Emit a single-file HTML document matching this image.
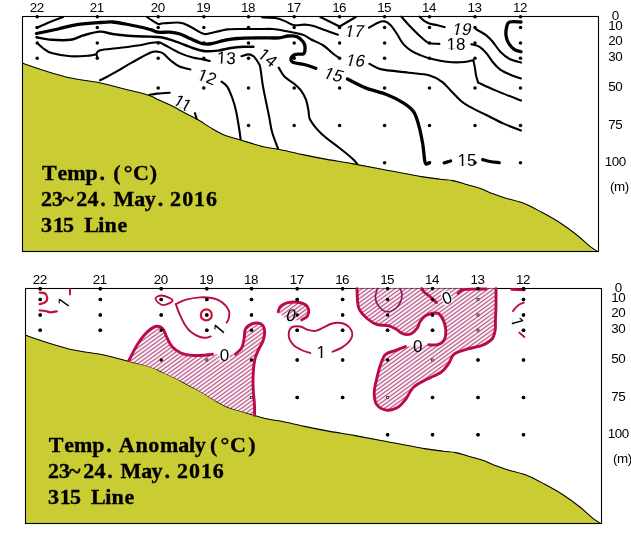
<!DOCTYPE html>
<html><head><meta charset="utf-8"><title>315 Line Temp.</title>
<style>
html,body{margin:0;padding:0;background:#fff;}
body{width:631px;height:545px;overflow:hidden;}
svg{display:block;}
.ax{font-family:"Liberation Sans",Arial,sans-serif;font-size:13.4px;letter-spacing:-0.5px;fill:#000;}
.cl{font-family:"Liberation Sans",Arial,sans-serif;font-size:17px;fill:#000;}
.ttl{font-family:"Liberation Serif","Times New Roman",serif;font-weight:bold;font-size:22px;fill:#000;stroke:#000;stroke-width:0.35px;}
</style></head><body>
<svg width="631" height="545" viewBox="0 0 631 545">
<rect width="631" height="545" fill="#fff"/>
<!-- top panel -->
<g transform="translate(0,0)">
<path d="M22.5,63.2 C26.3,64.5 37.4,68.4 45.4,70.9 C53.4,73.4 62.1,76.1 70.7,78 C79.4,79.9 90.3,81 97.3,82.3 C104.3,83.6 108,84.8 112.7,86 C117.4,87.2 121.2,88.2 125.4,89.2 C129.6,90.2 133.8,91.2 138,92.3 C142.2,93.4 147,94.7 150.7,96.1 C154.4,97.5 156.3,98.9 160,100.6 C163.7,102.3 168.5,104.2 172.7,106.3 C176.9,108.4 181.2,111 185.4,113.2 C189.6,115.5 193.4,117.2 198,119.8 C202.6,122.4 208.1,126.4 212.7,129 C217.3,131.6 220.8,133.6 225.4,135.4 C230.1,137.2 234.3,138.1 240.6,140 C246.9,141.9 257.1,145.2 263.4,146.8 C269.7,148.4 272.3,148 278.6,149.3 C284.9,150.6 293.4,152.7 301.4,154.4 C309.4,156.1 318.4,157.9 326.8,159.4 C335.2,160.9 342.6,161.9 352,163.6 C361.4,165.3 371.8,167.3 383.4,169.5 C395,171.7 412,175 421.4,176.6 C430.8,178.2 434.8,178.5 440,179.2 C445.2,179.9 448.5,179.8 452.7,180.6 C456.9,181.4 460.8,182.9 465.4,184.2 C470,185.5 476.4,187 480.6,188.5 C484.8,190 486.5,191.5 490.7,193.1 C494.9,194.7 500.4,196.5 505.9,198.2 C511.4,199.9 517.8,200.9 523.7,203.2 C529.6,205.5 535.5,208.9 541.4,212.1 C547.3,215.3 553.3,218.5 559.2,222.3 C565.1,226.1 571.8,231 576.9,235 C582,239 586.1,243.4 589.6,246.1 C593.1,248.8 596.3,250.5 597.6,251.4 L598.5,251.5 L22.5,251.5 Z" fill="#c9cc33" stroke="none"/>
<path d="M22.5,63.2 C26.3,64.5 37.4,68.4 45.4,70.9 C53.4,73.4 62.1,76.1 70.7,78 C79.4,79.9 90.3,81 97.3,82.3 C104.3,83.6 108,84.8 112.7,86 C117.4,87.2 121.2,88.2 125.4,89.2 C129.6,90.2 133.8,91.2 138,92.3 C142.2,93.4 147,94.7 150.7,96.1 C154.4,97.5 156.3,98.9 160,100.6 C163.7,102.3 168.5,104.2 172.7,106.3 C176.9,108.4 181.2,111 185.4,113.2 C189.6,115.5 193.4,117.2 198,119.8 C202.6,122.4 208.1,126.4 212.7,129 C217.3,131.6 220.8,133.6 225.4,135.4 C230.1,137.2 234.3,138.1 240.6,140 C246.9,141.9 257.1,145.2 263.4,146.8 C269.7,148.4 272.3,148 278.6,149.3 C284.9,150.6 293.4,152.7 301.4,154.4 C309.4,156.1 318.4,157.9 326.8,159.4 C335.2,160.9 342.6,161.9 352,163.6 C361.4,165.3 371.8,167.3 383.4,169.5 C395,171.7 412,175 421.4,176.6 C430.8,178.2 434.8,178.5 440,179.2 C445.2,179.9 448.5,179.8 452.7,180.6 C456.9,181.4 460.8,182.9 465.4,184.2 C470,185.5 476.4,187 480.6,188.5 C484.8,190 486.5,191.5 490.7,193.1 C494.9,194.7 500.4,196.5 505.9,198.2 C511.4,199.9 517.8,200.9 523.7,203.2 C529.6,205.5 535.5,208.9 541.4,212.1 C547.3,215.3 553.3,218.5 559.2,222.3 C565.1,226.1 571.8,231 576.9,235 C582,239 586.1,243.4 589.6,246.1 C593.1,248.8 596.3,250.5 597.6,251.4" fill="none" stroke="#000" stroke-width="1.1"/>
<rect x="22.5" y="16.5" width="576" height="235" fill="none" stroke="#000" stroke-width="1.1"/>
<circle cx="37.2" cy="16.8" r="1.75"/>
<circle cx="37.2" cy="27.5" r="1.75"/>
<circle cx="37.2" cy="43" r="1.75"/>
<circle cx="37.2" cy="58.2" r="1.75"/>
<circle cx="97.3" cy="16.8" r="1.75"/>
<circle cx="97.3" cy="27.5" r="1.75"/>
<circle cx="97.3" cy="43" r="1.75"/>
<circle cx="97.3" cy="58.2" r="1.75"/>
<circle cx="158.2" cy="16.8" r="1.75"/>
<circle cx="158.2" cy="27.5" r="1.75"/>
<circle cx="158.2" cy="43" r="1.75"/>
<circle cx="158.2" cy="58.2" r="1.75"/>
<circle cx="158.2" cy="88" r="1.75"/>
<circle cx="203.8" cy="16.8" r="1.75"/>
<circle cx="203.8" cy="27.5" r="1.75"/>
<circle cx="203.8" cy="43" r="1.75"/>
<circle cx="203.8" cy="58.2" r="1.75"/>
<circle cx="203.8" cy="88" r="1.75"/>
<circle cx="248.5" cy="16.8" r="1.75"/>
<circle cx="248.5" cy="27.5" r="1.75"/>
<circle cx="248.5" cy="43" r="1.75"/>
<circle cx="248.5" cy="58.2" r="1.75"/>
<circle cx="248.5" cy="88" r="1.75"/>
<circle cx="248.5" cy="125.5" r="1.75"/>
<circle cx="294.2" cy="16.8" r="1.75"/>
<circle cx="294.2" cy="27.5" r="1.75"/>
<circle cx="294.2" cy="43" r="1.75"/>
<circle cx="294.2" cy="58.2" r="1.75"/>
<circle cx="294.2" cy="88" r="1.75"/>
<circle cx="294.2" cy="125.5" r="1.75"/>
<circle cx="339.6" cy="16.8" r="1.75"/>
<circle cx="339.6" cy="27.5" r="1.75"/>
<circle cx="339.6" cy="43" r="1.75"/>
<circle cx="339.6" cy="58.2" r="1.75"/>
<circle cx="339.6" cy="88" r="1.75"/>
<circle cx="339.6" cy="125.5" r="1.75"/>
<circle cx="384.6" cy="16.8" r="1.75"/>
<circle cx="384.6" cy="27.5" r="1.75"/>
<circle cx="384.6" cy="43" r="1.75"/>
<circle cx="384.6" cy="58.2" r="1.75"/>
<circle cx="384.6" cy="88" r="1.75"/>
<circle cx="384.6" cy="125.5" r="1.75"/>
<circle cx="384.6" cy="162.7" r="1.75"/>
<circle cx="429.5" cy="16.8" r="1.75"/>
<circle cx="429.5" cy="27.5" r="1.75"/>
<circle cx="429.5" cy="43" r="1.75"/>
<circle cx="429.5" cy="58.2" r="1.75"/>
<circle cx="429.5" cy="88" r="1.75"/>
<circle cx="429.5" cy="125.5" r="1.75"/>
<circle cx="429.5" cy="162.7" r="1.75"/>
<circle cx="475" cy="16.8" r="1.75"/>
<circle cx="475" cy="27.5" r="1.75"/>
<circle cx="475" cy="43" r="1.75"/>
<circle cx="475" cy="58.2" r="1.75"/>
<circle cx="475" cy="88" r="1.75"/>
<circle cx="475" cy="125.5" r="1.75"/>
<circle cx="475" cy="162.7" r="1.75"/>
<circle cx="520.5" cy="16.8" r="1.75"/>
<circle cx="520.5" cy="27.5" r="1.75"/>
<circle cx="520.5" cy="43" r="1.75"/>
<circle cx="520.5" cy="58.2" r="1.75"/>
<circle cx="520.5" cy="88" r="1.75"/>
<circle cx="520.5" cy="125.5" r="1.75"/>
<circle cx="520.5" cy="162.7" r="1.75"/>
<g class="ax" text-anchor="middle">
<text x="36.7" y="11.6">22</text>
<text x="96.8" y="11.6">21</text>
<text x="157.7" y="11.6">20</text>
<text x="203.3" y="11.6">19</text>
<text x="248" y="11.6">18</text>
<text x="293.7" y="11.6">17</text>
<text x="339.1" y="11.6">16</text>
<text x="384.1" y="11.6">15</text>
<text x="429" y="11.6">14</text>
<text x="474.5" y="11.6">13</text>
<text x="520" y="11.6">12</text>
<text x="615.2" y="20.2">0</text>
<text x="615.2" y="30.3">10</text>
<text x="615.2" y="45.4">20</text>
<text x="615.2" y="61.2">30</text>
<text x="615.2" y="91.3">50</text>
<text x="615.2" y="129.3">75</text>
<text x="615.2" y="166.3">100</text>
<text x="619.4" y="191">(m)</text>
</g>
<g class="ttl">
<text x="42 57.4 67.3 85.5 99.5 105.5 113.2 123.7 132.9 149.8" y="179.5">Temp. (°C)</text>
<text x="41 52.1 62.2 76.3 87.5 100.3 106.3 113.5 134.2 144.7 157.7 163.7 170.1 182.2 194.1 205.9" y="205.5">23~24. May. 2016</text>
<text x="41.1 52.9 63.1 69.1 84.2 98.3 104.6 117.5" y="231.5">315 Line</text>
</g>
</g>
<g fill="none" stroke="#000" stroke-linecap="round" stroke-linejoin="round">
<path d="M36.5,27.7 C38.8,26.8 45.6,23.8 50,22 C54.4,20.2 60.9,17.8 63.1,17" stroke-width="2.1"/>
<path d="M146.9,17 C147.9,17.7 151.1,19.8 153,21 C154.9,22.2 156.6,23.6 158.3,24 C160,24.4 159.8,23.5 163.4,23.3 C167,23.1 175.6,22.2 180,22.7 C184.4,23.2 186.2,24.7 190,26.5 C193.8,28.3 199.6,32.3 202.8,33.5 C206,34.7 204.8,34.2 209,33.5 C213.2,32.8 221.4,30.1 228,29.4 C234.6,28.6 243.2,29.1 248.5,29 C253.8,28.9 256,29 260,29 C264,29 268.5,28.7 272.7,29 C276.9,29.3 281.2,30.2 285.4,31 C289.6,31.8 294.8,32.8 298,33.5 C301.2,34.2 302.3,34.4 304.4,35.4 C306.5,36.4 307.5,37.5 310.7,39.2 C313.9,40.9 319.9,43.3 323.4,45.5 C326.9,47.7 329,50.4 331.7,52.5 C334.4,54.6 338,57.2 339.3,58.2" stroke-width="2.1"/>
<path d="M369.4,63.8 C370.8,64.5 375.2,67.2 378,68.3 C380.8,69.3 380.9,69.4 386,70.1 C391.1,70.8 401.5,71.8 408.7,72.7 C415.9,73.6 423.5,73.7 429,75.2 C434.5,76.7 437.9,78.8 441.7,81.6 C445.5,84.3 448.4,88.3 451.8,91.7 C455.2,95.1 459,99.3 462,101.8 C465,104.3 466.1,104.8 470,106.9 C473.9,109 479.7,111.8 485.2,114.5 C490.7,117.2 497,120.7 503,123.4 C509,126.1 518,129.3 521,130.5" stroke-width="2.1"/>
<path d="M36.5,33.5 C40.1,32.8 51.2,30.5 58,29 C64.8,27.5 70,25.7 77,24.6 C84,23.5 94,22.9 100,22.5 C106,22.1 108.5,21.8 112.7,22 C116.9,22.2 121.2,23.2 125.4,24 C129.6,24.8 133.8,25.6 138,26.5 C142.2,27.4 147.3,28.8 150.7,29.7 C154.1,30.6 155.1,31.8 158.3,32.2 C161.5,32.6 166.1,31.9 169.7,32.2 C173.3,32.5 176.6,33 180,34 C183.4,35 186.2,36.9 190,38.5 C193.8,40.1 199.2,42.8 202.8,43.6 C206.4,44.5 208.1,44.1 211.7,43.6 C215.3,43.1 220.2,41.2 224.4,40.4 C228.6,39.5 231.1,38.9 237,38.5 C242.9,38.1 253,38 260,37.9 C267,37.8 274.4,38.2 279,37.9 C283.6,37.6 284.9,36.2 287.9,36 C290.9,35.8 294.3,35.6 296.8,36.6 C299.3,37.6 301.7,40 303.1,41.7 C304.5,43.4 304.9,44.8 305,46.8 C305.1,48.8 305.3,52.4 303.7,53.7 C302.1,55 297.6,53.5 295.5,54.4 C293.4,55.2 291.3,57.4 291,58.8 C290.7,60.2 291.4,61.6 293.6,62.6 C295.8,63.6 300.7,63.5 304.4,64.5 C308.1,65.5 313.9,67.7 315.8,68.3" stroke-width="3.3"/>
<path d="M347.4,79 C350.4,80.5 359.2,85.4 365.6,87.9 C372,90.4 379.6,91.7 386,94.2 C392.4,96.7 399.1,100.1 403.7,103.1 C408.3,106.1 411.3,108.2 413.8,112 C416.3,115.8 417.4,120.6 418.9,125.9 C420.4,131.2 421.6,137.6 422.7,143.7 C423.8,149.8 424.1,159.5 425.2,162.7 C426.3,165.9 428.8,162.7 429.5,162.7" stroke-width="3.3"/>
<path d="M444.2,162.9 L450.6,161" stroke-width="3.3"/>
<path d="M482.7,159.6 C483.9,159.9 487.2,161 490,161.5 C492.8,162 497.7,162.5 499.2,162.7" stroke-width="3.3"/>
<path d="M36.5,37.3 C39,37.7 46,39.4 51.7,39.8 C57.4,40.2 65.4,40.5 70.7,39.8 C76,39.1 78.5,36.8 83.4,35.4 C88.3,34 95.1,31.8 100,31.6 C104.9,31.4 107.4,33.3 112.7,34 C118,34.7 125.4,35.6 131.7,36 C138,36.4 145.8,36.4 150.7,36.6 C155.6,36.8 157.5,36.8 160.9,37.3 C164.3,37.8 167.8,38.8 171,39.8 C174.2,40.8 176.4,41.6 180,43 C183.6,44.4 188.5,46.6 192.7,48 C196.9,49.4 201.2,50.8 205.4,51.2 C209.6,51.6 213.8,51.1 218,50.6 C222.2,50.1 226.5,48.6 230.7,48 C234.9,47.4 239.6,47 243.4,46.8 C247.2,46.6 251.8,46.8 253.5,46.8" stroke-width="2.4"/>
<path d="M278.7,67.6 C279.6,69.1 281.8,73.8 284.4,76.5 C287,79.2 291.8,81.7 294.5,84 C297.2,86.3 299,87.9 300.9,90.4 C302.8,93 304.6,95.9 305.9,99.3 C307.2,102.7 307.8,107.2 308.5,110.7 C309.2,114.2 308.1,116.1 310.3,120 C312.5,123.9 316.8,129.3 321.7,134 C326.6,138.7 334.4,144 339.5,148 C344.6,152 349.1,155.6 352,158.2 C354.9,160.8 356.3,162.9 357.2,163.8" stroke-width="2.1"/>
<path d="M37.1,43 C38,43.8 40.4,46.3 42.8,48 C45.2,49.7 47.1,51.7 51.7,53.1 C56.4,54.5 64.4,55.9 70.7,56.3 C77,56.7 85.5,55.9 89.7,55.6 C93.9,55.3 94.7,54.2 96,54.6 C97.3,55 97.1,57.3 97.3,57.8" stroke-width="2.1"/>
<path d="M96,54.6 C96.7,53.9 96.2,51.4 100,50.3 C103.8,49.2 112.7,48.8 119,48 C125.3,47.2 132.7,46.3 138,45.5 C143.3,44.7 147.3,43.5 150.7,43 C154.1,42.5 156.2,42.1 158.3,42.3 C160.4,42.5 159.8,42.4 163.4,44.2 C167,46 175.1,50.9 180,53.1 C184.9,55.3 188.9,56.5 192.7,57.5 C196.5,58.5 200,58.8 202.8,59.4 C205.7,60 208.6,60.7 209.8,61" stroke-width="2.1"/>
<path d="M241.5,56.3 C242.7,56 246.5,54.4 248.5,54.4 C250.5,54.4 251.8,54.8 253.5,56.3 C255.2,57.8 257.5,61.3 258.6,63.2 C259.7,65.1 259.6,63.9 260.3,67.6 C261,71.3 261.8,79.3 262.8,85.4 C263.9,91.5 265.5,99.1 266.6,104.4 C267.7,109.7 268.2,112.3 269.2,117 C270.1,121.7 270.8,127.6 272.3,132.8 C273.8,138.1 277.1,145.9 278,148.5" stroke-width="2.1"/>
<path d="M100,80.3 C101.3,79.7 104.4,78.2 107.6,76.5 C110.8,74.8 115,72.4 119,70.1 C123,67.8 126.4,65.5 131.7,62.6 C137,59.7 146.3,54.3 150.7,52.5 C155.1,50.7 156.2,51.6 158.3,51.8 C160.4,52 161.3,52.2 163.4,53.7 C165.5,55.2 168.4,58.6 171,60.7 C173.6,62.8 175.8,64.8 179,66.3 C182.2,67.8 188.5,69 190.4,69.5" stroke-width="2.1"/>
<path d="M221.5,81.6 C222.4,82.4 225.4,83.9 227.2,86.6 C229,89.3 230.8,94 232.3,98 C233.8,102 234.8,105.5 236,110.7 C237.2,115.9 238.4,124.2 239.2,129 C240,133.8 240.4,137.5 240.6,139.2" stroke-width="2.1"/>
<path d="M149.4,94.9 C150.7,94.7 153.6,94 157,93.6 C160.4,93.2 167.6,92.8 169.7,92.7" stroke-width="2.1"/>
<path d="M194.9,113.2 L196.8,119" stroke-width="2.1"/>
<path d="M262,17.3 C264.4,17.4 272.6,17.5 276.5,18.2 C280.4,18.9 282.4,20.2 285.4,21.4 C288.3,22.6 291,24.7 294.2,25.2 C297.4,25.7 301.3,24.5 304.4,24.6 C307.5,24.7 309.2,24.9 312.7,25.8 C316.2,26.8 321.2,28.8 325.4,30.3 C329.6,31.8 335.9,34 338,34.7" stroke-width="2.1"/>
<path d="M369,27.7 C370.5,26.9 375.4,23.8 378,22.7 C380.6,21.6 382.5,21 384.6,21.4 C386.7,21.8 388.6,23.1 390.7,25.2 C392.8,27.3 394.9,30.8 397,34 C399.1,37.2 401.1,41.4 403.4,44.2 C405.7,47 408.2,48.8 411,50.6 C413.8,52.4 416.8,53.7 420,55 C423.2,56.3 425.2,57.2 430,58.4 C434.8,59.6 443.3,61.4 449,62 C454.7,62.6 460.3,62.3 464.4,62 C468.4,61.7 471.8,60.5 473.3,60.2" stroke-width="2.1"/>
<path d="M473.3,60.2 C473.6,61.6 474.6,65.8 475,68.3 C475.4,70.8 475.5,72.8 476,75.2 C476.5,77.6 477.8,81.4 478.2,82.6" stroke-width="2.1"/>
<path d="M478.2,82.6 C481.1,83.9 488.3,87.4 495.4,90.4 C502.5,93.4 516.7,98.9 521,100.6" stroke-width="2.1"/>
<path d="M401.4,16.7 C402.7,18.1 406.1,22.2 409,25.2 C411.9,28.2 415.6,32 418.5,34.7 C421.4,37.4 424.2,40 426.1,41.4 C428,42.8 427.8,42.9 430,43.3 C432.2,43.7 437.8,43.8 439.4,43.9" stroke-width="2.1"/>
<path d="M471.3,44.2 C472.7,44.6 477.1,45.3 479.6,46.8 C482.1,48.3 484.1,50.6 486.3,53.1 C488.5,55.6 490.4,59.2 492.7,62 C495,64.8 497.4,67.5 500.3,69.6 C503.2,71.7 506.9,73.2 510.4,74.7 C513.9,76.2 519.2,77.9 521,78.5" stroke-width="2.1"/>
<path d="M419.5,16.7 C420.3,17.4 422.4,19.7 424.2,20.9 C425.9,22.1 427.8,23.1 430,23.8 C432.2,24.5 435.1,24.6 437.5,25.2 C439.9,25.8 443.5,26.8 444.7,27.1" stroke-width="2.1"/>
<path d="M475.8,29 C477.1,29.8 481.6,32.4 483.4,33.5 C485.1,34.6 484.8,34 486.3,35.4 C487.9,36.8 490.4,39 492.7,41.7 C495,44.4 497.6,48.9 500.3,51.8 C503.1,54.6 505.8,57 509.2,58.8 C512.6,60.6 519,62 521,62.6" stroke-width="2.1"/>
<path d="M521,22 C519.1,22 512,21.2 509.6,22 C507.2,22.8 507.4,24.3 506.8,26.5 C506.2,28.7 505.7,32.6 506,35.4 C506.3,38.1 507.1,40.7 508.5,43 C509.9,45.3 512.1,47.8 514.2,49.3 C516.3,50.8 519.9,51.4 521,51.8" stroke-width="3.3"/>
<path d="M320.3,17 L339.6,26.5 L355.8,17" stroke-width="2.1"/>
</g>
<g class="cl" text-anchor="middle">
<g transform="translate(226.3,57.5) rotate(3)"><text y="6.2">13</text>
<rect x="-8.9" y="4.7" width="3.7" height="1.9" fill="#fff"/>
<rect x="-3.6" y="4.7" width="3.2" height="1.9" fill="#fff"/>
</g>
<g transform="translate(268,57.2) rotate(40)"><text y="6.2">14</text>
<rect x="-8.9" y="4.7" width="3.7" height="1.9" fill="#fff"/>
<rect x="-3.6" y="4.7" width="3.2" height="1.9" fill="#fff"/>
</g>
<g transform="translate(207.2,76.5) rotate(21)"><text y="6.2">12</text>
<rect x="-8.9" y="4.7" width="3.7" height="1.9" fill="#fff"/>
<rect x="-3.6" y="4.7" width="3.2" height="1.9" fill="#fff"/>
</g>
<g transform="translate(183,102.8) rotate(30)"><text y="6.2">11</text>
<rect x="-8.9" y="4.7" width="3.7" height="1.9" fill="#fff"/>
<rect x="-3.6" y="4.7" width="3.2" height="1.9" fill="#fff"/>
<rect x="0.5" y="4.7" width="3.7" height="1.9" fill="#fff"/>
<rect x="5.9" y="4.7" width="3.2" height="1.9" fill="#fff"/>
</g>
<g transform="translate(332.7,74) rotate(14) translate(0,6.2) skewX(-12) translate(0,-6.2)"><text y="6.2">15</text>
<rect x="-8.9" y="4.7" width="3.7" height="1.9" fill="#fff"/>
<rect x="-3.6" y="4.7" width="3.2" height="1.9" fill="#fff"/>
</g>
<g transform="translate(354.5,60) rotate(3) translate(0,6.2) skewX(-12) translate(0,-6.2)"><text y="6.2">16</text>
<rect x="-8.9" y="4.7" width="3.7" height="1.9" fill="#fff"/>
<rect x="-3.6" y="4.7" width="3.2" height="1.9" fill="#fff"/>
</g>
<g transform="translate(353.5,31) rotate(0) translate(0,6.2) skewX(-12) translate(0,-6.2)"><text y="6.2">17</text>
<rect x="-8.9" y="4.7" width="3.7" height="1.9" fill="#fff"/>
<rect x="-3.6" y="4.7" width="3.2" height="1.9" fill="#fff"/>
</g>
<g transform="translate(461,28.7) rotate(0) translate(0,6.2) skewX(-12) translate(0,-6.2)"><text y="6.2">19</text>
<rect x="-8.9" y="4.7" width="3.7" height="1.9" fill="#fff"/>
<rect x="-3.6" y="4.7" width="3.2" height="1.9" fill="#fff"/>
</g>
<g transform="translate(456,44.2) rotate(0)"><text y="6.2">18</text>
<rect x="-8.9" y="4.7" width="3.7" height="1.9" fill="#fff"/>
<rect x="-3.6" y="4.7" width="3.2" height="1.9" fill="#fff"/>
</g>
<g transform="translate(467,159.7) rotate(0)"><text y="6.2">15</text>
<rect x="-8.9" y="4.7" width="3.7" height="1.9" fill="#fff"/>
<rect x="-3.6" y="4.7" width="3.2" height="1.9" fill="#fff"/>
</g>
</g>
<!-- bottom panel -->
<g transform="translate(3,272)">
<path d="M22.5,63.2 C26.3,64.5 37.4,68.4 45.4,70.9 C53.4,73.4 62.1,76.1 70.7,78 C79.4,79.9 90.3,81 97.3,82.3 C104.3,83.6 108,84.8 112.7,86 C117.4,87.2 121.2,88.2 125.4,89.2 C129.6,90.2 133.8,91.2 138,92.3 C142.2,93.4 147,94.7 150.7,96.1 C154.4,97.5 156.3,98.9 160,100.6 C163.7,102.3 168.5,104.2 172.7,106.3 C176.9,108.4 181.2,111 185.4,113.2 C189.6,115.5 193.4,117.2 198,119.8 C202.6,122.4 208.1,126.4 212.7,129 C217.3,131.6 220.8,133.6 225.4,135.4 C230.1,137.2 234.3,138.1 240.6,140 C246.9,141.9 257.1,145.2 263.4,146.8 C269.7,148.4 272.3,148 278.6,149.3 C284.9,150.6 293.4,152.7 301.4,154.4 C309.4,156.1 318.4,157.9 326.8,159.4 C335.2,160.9 342.6,161.9 352,163.6 C361.4,165.3 371.8,167.3 383.4,169.5 C395,171.7 412,175 421.4,176.6 C430.8,178.2 434.8,178.5 440,179.2 C445.2,179.9 448.5,179.8 452.7,180.6 C456.9,181.4 460.8,182.9 465.4,184.2 C470,185.5 476.4,187 480.6,188.5 C484.8,190 486.5,191.5 490.7,193.1 C494.9,194.7 500.4,196.5 505.9,198.2 C511.4,199.9 517.8,200.9 523.7,203.2 C529.6,205.5 535.5,208.9 541.4,212.1 C547.3,215.3 553.3,218.5 559.2,222.3 C565.1,226.1 571.8,231 576.9,235 C582,239 586.1,243.4 589.6,246.1 C593.1,248.8 596.3,250.5 597.6,251.4 L598.5,251.5 L22.5,251.5 Z" fill="#c9cc33" stroke="none"/>
<path d="M22.5,63.2 C26.3,64.5 37.4,68.4 45.4,70.9 C53.4,73.4 62.1,76.1 70.7,78 C79.4,79.9 90.3,81 97.3,82.3 C104.3,83.6 108,84.8 112.7,86 C117.4,87.2 121.2,88.2 125.4,89.2 C129.6,90.2 133.8,91.2 138,92.3 C142.2,93.4 147,94.7 150.7,96.1 C154.4,97.5 156.3,98.9 160,100.6 C163.7,102.3 168.5,104.2 172.7,106.3 C176.9,108.4 181.2,111 185.4,113.2 C189.6,115.5 193.4,117.2 198,119.8 C202.6,122.4 208.1,126.4 212.7,129 C217.3,131.6 220.8,133.6 225.4,135.4 C230.1,137.2 234.3,138.1 240.6,140 C246.9,141.9 257.1,145.2 263.4,146.8 C269.7,148.4 272.3,148 278.6,149.3 C284.9,150.6 293.4,152.7 301.4,154.4 C309.4,156.1 318.4,157.9 326.8,159.4 C335.2,160.9 342.6,161.9 352,163.6 C361.4,165.3 371.8,167.3 383.4,169.5 C395,171.7 412,175 421.4,176.6 C430.8,178.2 434.8,178.5 440,179.2 C445.2,179.9 448.5,179.8 452.7,180.6 C456.9,181.4 460.8,182.9 465.4,184.2 C470,185.5 476.4,187 480.6,188.5 C484.8,190 486.5,191.5 490.7,193.1 C494.9,194.7 500.4,196.5 505.9,198.2 C511.4,199.9 517.8,200.9 523.7,203.2 C529.6,205.5 535.5,208.9 541.4,212.1 C547.3,215.3 553.3,218.5 559.2,222.3 C565.1,226.1 571.8,231 576.9,235 C582,239 586.1,243.4 589.6,246.1 C593.1,248.8 596.3,250.5 597.6,251.4" fill="none" stroke="#000" stroke-width="1.1"/>
<rect x="22.5" y="16.5" width="576" height="235" fill="none" stroke="#000" stroke-width="1.1"/>
<circle cx="37.2" cy="16.8" r="1.75"/>
<circle cx="37.2" cy="27.5" r="1.75"/>
<circle cx="37.2" cy="43" r="1.75"/>
<circle cx="37.2" cy="58.2" r="1.75"/>
<circle cx="97.3" cy="16.8" r="1.75"/>
<circle cx="97.3" cy="27.5" r="1.75"/>
<circle cx="97.3" cy="43" r="1.75"/>
<circle cx="97.3" cy="58.2" r="1.75"/>
<circle cx="158.2" cy="16.8" r="1.75"/>
<circle cx="158.2" cy="27.5" r="1.75"/>
<circle cx="158.2" cy="43" r="1.75"/>
<circle cx="158.2" cy="58.2" r="1.75"/>
<circle cx="158.2" cy="88" r="1.75"/>
<circle cx="203.8" cy="16.8" r="1.75"/>
<circle cx="203.8" cy="27.5" r="1.75"/>
<circle cx="203.8" cy="43" r="1.75"/>
<circle cx="203.8" cy="58.2" r="1.75"/>
<circle cx="248.5" cy="16.8" r="1.75"/>
<circle cx="248.5" cy="27.5" r="1.75"/>
<circle cx="248.5" cy="43" r="1.75"/>
<circle cx="248.5" cy="58.2" r="1.75"/>
<circle cx="248.5" cy="88" r="1.75"/>
<circle cx="294.2" cy="16.8" r="1.75"/>
<circle cx="294.2" cy="27.5" r="1.75"/>
<circle cx="294.2" cy="43" r="1.75"/>
<circle cx="294.2" cy="58.2" r="1.75"/>
<circle cx="294.2" cy="88" r="1.75"/>
<circle cx="294.2" cy="125.5" r="1.75"/>
<circle cx="339.6" cy="16.8" r="1.75"/>
<circle cx="339.6" cy="27.5" r="1.75"/>
<circle cx="339.6" cy="43" r="1.75"/>
<circle cx="339.6" cy="58.2" r="1.75"/>
<circle cx="339.6" cy="88" r="1.75"/>
<circle cx="339.6" cy="125.5" r="1.75"/>
<circle cx="384.6" cy="16.8" r="1.75"/>
<circle cx="384.6" cy="27.5" r="1.75"/>
<circle cx="384.6" cy="43" r="1.75"/>
<circle cx="384.6" cy="58.2" r="1.75"/>
<circle cx="384.6" cy="88" r="1.75"/>
<circle cx="384.6" cy="162.7" r="1.75"/>
<circle cx="429.5" cy="16.8" r="1.75"/>
<circle cx="429.5" cy="27.5" r="1.75"/>
<circle cx="429.5" cy="43" r="1.75"/>
<circle cx="429.5" cy="58.2" r="1.75"/>
<circle cx="429.5" cy="125.5" r="1.75"/>
<circle cx="429.5" cy="162.7" r="1.75"/>
<circle cx="475" cy="16.8" r="1.75"/>
<circle cx="475" cy="88" r="1.75"/>
<circle cx="475" cy="125.5" r="1.75"/>
<circle cx="475" cy="162.7" r="1.75"/>
<circle cx="520.5" cy="16.8" r="1.75"/>
<circle cx="520.5" cy="27.5" r="1.75"/>
<circle cx="520.5" cy="43" r="1.75"/>
<circle cx="520.5" cy="58.2" r="1.75"/>
<circle cx="520.5" cy="88" r="1.75"/>
<circle cx="520.5" cy="125.5" r="1.75"/>
<circle cx="520.5" cy="162.7" r="1.75"/>
<g class="ax" text-anchor="middle">
<text x="36.7" y="11.6">22</text>
<text x="96.8" y="11.6">21</text>
<text x="157.7" y="11.6">20</text>
<text x="203.3" y="11.6">19</text>
<text x="248" y="11.6">18</text>
<text x="293.7" y="11.6">17</text>
<text x="339.1" y="11.6">16</text>
<text x="384.1" y="11.6">15</text>
<text x="429" y="11.6">14</text>
<text x="474.5" y="11.6">13</text>
<text x="520" y="11.6">12</text>
<text x="615.2" y="20.2">0</text>
<text x="615.2" y="30.3">10</text>
<text x="615.2" y="45.4">20</text>
<text x="615.2" y="61.2">30</text>
<text x="615.2" y="91.3">50</text>
<text x="615.2" y="129.3">75</text>
<text x="615.2" y="166.3">100</text>
<text x="619.4" y="191">(m)</text>
</g>
<g class="ttl">
<text x="45.8 61.2 71.1 89.3 103.3 109.3 115.7 132.4 145.3 156.9 175.2 186.1 191.7 207 217.6 227.1 245.3" y="179.5">Temp. Anomaly(°C)</text>
<text x="44.9 56 66.1 80.2 91.4 104.2 110.2 117.4 138.2 148.6 161.6 167.6 174 186.1 198 209.8" y="205.5">23~24. May. 2016</text>
<text x="45 56.8 67 73 88.1 102.2 108.5 121.4" y="231.5">315 Line</text>
</g>
</g>
<defs><pattern id="hat" width="5.5" height="4" patternUnits="userSpaceOnUse"><rect width="5.5" height="4" fill="#fff3f8"/><path d="M-5.5,8 L11,-4 M-5.5,4 L5.5,-4 M0,8 L11,0" stroke="#b65588" stroke-width="1.15" fill="none"/></pattern></defs>
<path d="M128.9,360.5 C130.4,357.8 134.5,348.9 137.7,344 C140.9,339.1 144.7,334.3 147.9,331.4 C151.1,328.4 154.3,326.7 156.8,326.3 C159.3,325.9 161.3,327 163,328.9 C164.7,330.8 165.5,334.8 167,337.7 C168.5,340.6 169.7,344.1 172,346.6 C174.3,349.2 177.3,351.5 180.9,353 C184.5,354.5 189.3,355.2 193.5,355.5 C197.7,355.8 203,355.2 206.2,355 C209.4,354.8 211.4,354.3 212.5,354.2 L235.4,354.2 C236.4,353.1 240.2,350.6 241.7,347.9 C243.2,345.1 243.6,340.9 244.2,337.7 C244.8,334.5 244.2,331.2 245.5,328.9 C246.8,326.6 249.3,324.6 251.8,323.8 C254.3,323 258.6,322.8 260.7,323.8 C262.8,324.8 264.1,327.2 264.5,330 C264.9,332.8 264.4,336.9 263.3,340.3 C262.2,343.7 259.7,346.8 258.2,350.4 C256.7,354 255.3,356.3 254.4,361.8 C253.5,367.3 253,376.4 253,383.4 C253,390.4 254.1,398.3 254.4,403.7 C254.7,409.1 254.6,413.5 254.6,415.5 L254.6,415.3 C253.1,414.8 248.6,413.5 245.6,412.6 C242.6,411.7 239.6,410.8 236.6,409.9 C233.7,409 230.7,408.3 227.7,407 C224.7,405.8 221.7,404.1 218.7,402.5 C215.7,400.9 212.7,399.1 209.7,397.2 C206.7,395.4 203.7,393.4 200.7,391.7 C197.7,389.9 194.7,388.5 191.8,387 C188.8,385.4 185.8,383.7 182.8,382.1 C179.8,380.6 176.8,378.9 173.8,377.4 C170.8,376 167.8,374.8 164.8,373.4 C161.8,372 158.8,370.4 155.8,369.1 C152.8,367.9 149.8,367 146.9,366.1 C143.9,365.1 140.9,364.3 137.9,363.5 C134.9,362.7 130.4,361.7 128.9,361.3 Z" fill="url(#hat)"/>
<path d="M278.2,311.7 C278.6,310.8 279.2,307.5 280.8,306 C282.4,304.5 284.9,303.2 287.7,302.6 C290.5,302 294.9,301.9 297.9,302.2 C300.9,302.5 303.7,303.4 305.5,304.7 C307.3,306 308.4,307.9 308.7,309.8 C309,311.7 308.6,314.4 307.4,316.1 C306.2,317.8 302.6,319.3 301.7,319.9 L293,320.5 L283,317 Z" fill="url(#hat)"/>
<path d="M496,288.6 C496,291.4 496.1,299.9 496,305.4 C495.9,310.9 495.5,317.7 495.4,321.8 C495.3,325.9 495.8,327.1 495.2,330 C494.6,332.9 494.3,336.4 492.1,339 C489.9,341.6 486.2,343.7 482,345.4 C477.8,347.1 471.4,347.7 466.8,349.2 C462.2,350.7 457.1,351.9 454.1,354.2 C451.1,356.5 451.1,360.1 449,363.1 C446.9,366.1 445.2,369.2 441.4,372 C437.6,374.8 430.8,377.1 426.2,379.6 C421.6,382.1 416.9,384 413.5,387.2 C410.1,390.4 408.4,395.7 405.9,399 C403.4,402.3 401.5,405.1 398.3,407 C395.1,408.9 390.5,410.6 386.9,410.2 C383.3,409.8 378.7,407.4 376.6,404.5 C374.5,401.6 374.2,397 374.2,392.6 C374.2,388.2 375.7,383 376.8,378.3 C377.9,373.6 379.1,368.4 380.6,364.4 C382.1,360.4 383.1,356.5 385.6,354.2 C388.1,351.9 392.5,351.7 395.8,350.4 C399.1,349.1 403.8,347.2 405.4,346.6 L428.7,344.8 C430.2,344.8 435.1,345.4 437.6,344.6 C440.2,343.9 442.6,342.7 444,340.3 C445.4,337.9 445.9,333.3 445.8,330 C445.7,326.7 444.6,323.3 443.5,320.6 C442.4,317.9 440.8,315.2 439,314 C437.2,312.8 435,312.8 432.7,313.2 C430.4,313.6 427.1,314.7 425,316.1 C422.9,317.5 421.3,319.8 420,321.8 C418.7,323.8 418.7,326.2 417.2,328.2 C415.7,330.2 413.2,332.9 410.9,333.9 C408.6,334.8 405.8,334.8 403.2,333.9 C400.6,333 398.1,330.2 395.6,328.8 C393.1,327.4 391.2,326.3 388,325.6 C384.8,324.9 380.2,325.7 376.6,324.4 C373,323.1 369.4,320.4 366.5,318 C363.6,315.6 361,312.5 359.5,309.8 C358,307.1 358,305.1 357.6,301.6 C357.2,298.1 357.1,290.8 357,288.6 Z" fill="url(#hat)"/>
<rect x="219.5" y="348" width="10" height="13" fill="#fff"/>
<rect x="442" y="291.5" width="9.6" height="12.4" fill="#fff" transform="rotate(-20 446.8 297.5)"/>
<g fill="none" stroke="#ba0a48" stroke-linecap="round" stroke-linejoin="round">
<path d="M128.9,360.5 C130.4,357.8 134.5,348.9 137.7,344 C140.9,339.1 144.7,334.3 147.9,331.4 C151.1,328.4 154.3,326.7 156.8,326.3 C159.3,325.9 161.3,327 163,328.9 C164.7,330.8 165.5,334.8 167,337.7 C168.5,340.6 169.7,344.1 172,346.6 C174.3,349.2 177.3,351.5 180.9,353 C184.5,354.5 189.3,355.2 193.5,355.5 C197.7,355.8 203,355.2 206.2,355 C209.4,354.8 211.4,354.3 212.5,354.2" stroke-width="2.9"/>
<path d="M235.4,354.2 C236.4,353.1 240.2,350.6 241.7,347.9 C243.2,345.1 243.6,340.9 244.2,337.7 C244.8,334.5 244.2,331.2 245.5,328.9 C246.8,326.6 249.3,324.6 251.8,323.8 C254.3,323 258.6,322.8 260.7,323.8 C262.8,324.8 264.1,327.2 264.5,330 C264.9,332.8 264.4,336.9 263.3,340.3 C262.2,343.7 259.7,346.8 258.2,350.4 C256.7,354 255.3,356.3 254.4,361.8 C253.5,367.3 253,376.4 253,383.4 C253,390.4 254.1,398.3 254.4,403.7 C254.7,409.1 254.6,413.5 254.6,415.5" stroke-width="2.9"/>
<path d="M278.2,311.7 C278.6,310.8 279.2,307.5 280.8,306 C282.4,304.5 284.9,303.2 287.7,302.6 C290.5,302 294.9,301.9 297.9,302.2 C300.9,302.5 303.7,303.4 305.5,304.7 C307.3,306 308.4,307.9 308.7,309.8 C309,311.7 308.6,314.4 307.4,316.1 C306.2,317.8 302.6,319.3 301.7,319.9" stroke-width="2.9"/>
<path d="M496,288.6 C496,291.4 496.1,299.9 496,305.4 C495.9,310.9 495.5,317.7 495.4,321.8 C495.3,325.9 495.8,327.1 495.2,330 C494.6,332.9 494.3,336.4 492.1,339 C489.9,341.6 486.2,343.7 482,345.4 C477.8,347.1 471.4,347.7 466.8,349.2 C462.2,350.7 457.1,351.9 454.1,354.2 C451.1,356.5 451.1,360.1 449,363.1 C446.9,366.1 445.2,369.2 441.4,372 C437.6,374.8 430.8,377.1 426.2,379.6 C421.6,382.1 416.9,384 413.5,387.2 C410.1,390.4 408.4,395.7 405.9,399 C403.4,402.3 401.5,405.1 398.3,407 C395.1,408.9 390.5,410.6 386.9,410.2 C383.3,409.8 378.7,407.4 376.6,404.5 C374.5,401.6 374.2,397 374.2,392.6 C374.2,388.2 375.7,383 376.8,378.3 C377.9,373.6 379.1,368.4 380.6,364.4 C382.1,360.4 383.1,356.5 385.6,354.2 C388.1,351.9 392.5,351.7 395.8,350.4 C399.1,349.1 403.8,347.2 405.4,346.6" stroke-width="2.9"/>
<path d="M428.7,344.8 C430.2,344.8 435.1,345.4 437.6,344.6 C440.2,343.9 442.6,342.7 444,340.3 C445.4,337.9 445.9,333.3 445.8,330 C445.7,326.7 444.6,323.3 443.5,320.6 C442.4,317.9 440.8,315.2 439,314 C437.2,312.8 435,312.8 432.7,313.2 C430.4,313.6 427.1,314.7 425,316.1 C422.9,317.5 421.3,319.8 420,321.8 C418.7,323.8 418.7,326.2 417.2,328.2 C415.7,330.2 413.2,332.9 410.9,333.9 C408.6,334.8 405.8,334.8 403.2,333.9 C400.6,333 398.1,330.2 395.6,328.8 C393.1,327.4 391.2,326.3 388,325.6 C384.8,324.9 380.2,325.7 376.6,324.4 C373,323.1 369.4,320.4 366.5,318 C363.6,315.6 361,312.5 359.5,309.8 C358,307.1 358,305.1 357.6,301.6 C357.2,298.1 357.1,290.8 357,288.6" stroke-width="2.9"/>
<path d="M39.7,292.7 C40.5,292.8 43.4,292.5 44.7,293.3 C46,294.1 47.2,296.2 47.3,297.7 C47.4,299.2 46.7,301.1 45.4,302.2 C44.1,303.3 40.7,303.8 39.7,304.1" stroke-width="2.2" stroke="#c81432"/>
<path d="M39.7,310.4 C40.7,310.5 43.6,310.7 45.4,311 C47.2,311.3 48.5,312.2 50.4,312.3 C52.3,312.4 55.7,311.5 56.8,311.4" stroke-width="2.2" stroke="#ba0a48"/>
<path d="M70,289 L70,294.6" stroke-width="1.9" stroke="#ba0a48"/>
<path d="M226.6,322.5 C226.9,322 228.1,321.1 228.5,319.3 C228.9,317.5 229.7,314 229.2,311.7 C228.7,309.4 227.1,307.3 225.4,305.4 C223.7,303.5 221.6,301.6 219,300.3 C216.4,299 213.2,298.2 210,297.7 C206.8,297.2 204,297.1 200,297.4 C196,297.7 190,298.6 186,299.7 C182,300.8 177.5,303.4 175.8,304.1" stroke-width="1.9" stroke="#ba0a48"/>
<path d="M175.8,304.1 C176.4,305.8 178.1,310.8 179.6,314.2 C181.1,317.6 182.8,321.4 184.7,324.4 C186.6,327.4 188.4,329.9 191,332 C193.6,334.1 197.4,336.1 200,337 C202.6,337.9 204.5,337.8 206.3,337.7 C208.1,337.6 210.1,336.6 210.8,336.4" stroke-width="1.9" stroke="#ba0a48"/>
<path d="M310.4,353.1 C308.9,352.6 304.3,351.3 301.6,350 C298.9,348.7 296,347.3 294,345.5 C292,343.7 290.4,341.4 289.5,339.2 C288.6,337 288.5,334.2 288.9,332.2 C289.3,330.2 290.1,328.1 292,327.1 C293.9,326.2 297.8,326.1 300.3,326.5 C302.9,326.9 304.8,329 307.3,329.7 C309.8,330.4 312.9,331.2 315.5,330.9 C318.1,330.6 320.6,328.8 323.1,327.7 C325.6,326.6 328.2,324.8 330.7,324 C333.2,323.2 335.8,322.6 338.3,322.7 C340.8,322.8 343.8,323.4 345.9,324.6 C348,325.8 349.9,327.9 351,329.7 C352.1,331.5 352.6,333.4 352.3,335.4 C352,337.4 350.8,339.7 349.1,341.7 C347.4,343.7 344.9,345.7 342.1,347.4 C339.4,349.1 334.2,351.1 332.6,351.8" stroke-width="1.9" stroke="#ba0a48"/>
<path d="M377.3,288.6 C377,289.9 375.4,293.9 375.4,296.5 C375.4,299.1 376,301.8 377.3,304.1 C378.6,306.4 381,309.1 383,310.4 C385,311.7 387.2,312 389.3,311.7 C391.4,311.4 393.7,310.2 395.6,308.5 C397.5,306.8 399.6,304 400.7,301.6 C401.8,299.2 402.1,296.2 402,294 C401.9,291.8 400.3,289.5 400,288.6" stroke-width="1.6" stroke="#8c1458"/>
<path d="M511.7,289.4 L524.4,290" stroke-width="2.6" stroke="#ba0a48"/>
<path d="M523.7,302.6 C522.8,303.1 519.8,304 518,305.4 C516.2,306.8 513.8,310.1 513,311" stroke-width="1.9" stroke="#ba0a48"/>
<path d="M519.3,332.6 L524.4,337" stroke-width="1.9" stroke="#ba0a48"/>
<path d="M421.6,288.6 C422.1,289.3 423.4,291.4 424.8,292.7 C426.2,294 428.1,294.9 430,296.5 C431.9,298.1 435.4,301.6 436.5,302.6" stroke-width="2.9" stroke="#ba0a48"/>
<path d="M458,293.3 C458.8,292.7 460.5,290.6 463,289.9 C465.5,289.2 469.2,289.2 473,289.1 C476.8,289 483.8,289 486,289" stroke-width="2.9" stroke="#ba0a48"/>
<path d="M155.5,299 C155.3,297.4 159,295.3 161.8,295.5 C164.7,295.7 172.4,298.7 172.6,300.3 C172.8,301.9 165.9,305.3 163.1,305.1 C160.2,304.9 155.7,300.6 155.5,299Z" stroke-width="1.8"/>
<circle cx="206.3" cy="314.9" r="5.5" stroke-width="2.2" stroke="#d01030"/>
</g>
<g class="cl" text-anchor="middle">
<g transform="translate(63.4,302.5) rotate(-55)"><text y="6.2">1</text>
<rect x="-4.2" y="4.7" width="3.7" height="1.9" fill="#fff"/>
<rect x="1.1" y="4.7" width="3.2" height="1.9" fill="#fff"/>
</g>
<g transform="translate(219,329) rotate(-50)"><text y="6.2">1</text>
<rect x="-4.2" y="4.7" width="3.7" height="1.9" fill="#fff"/>
<rect x="1.1" y="4.7" width="3.2" height="1.9" fill="#fff"/>
</g>
<g transform="translate(224.5,354.3) rotate(0)"><text y="6.2">0</text>
</g>
<g transform="translate(290,315.2) rotate(0) translate(0,6.2) skewX(-12) translate(0,-6.2)"><text y="6.2">0</text>
</g>
<g transform="translate(321.2,351.5) rotate(0)"><text y="6.2">1</text>
<rect x="-4.2" y="4.7" width="3.7" height="1.9" fill="#fff"/>
<rect x="1.1" y="4.7" width="3.2" height="1.9" fill="#fff"/>
</g>
<g transform="translate(417.7,345.4) rotate(0)"><text y="6.2">0</text>
</g>
<g transform="translate(446.8,297.5) rotate(-20)"><text y="6.2">0</text>
</g>
<g transform="translate(517.7,321.8) rotate(75)"><text y="6.2">1</text>
<rect x="-4.2" y="4.7" width="3.7" height="1.9" fill="#fff"/>
<rect x="1.1" y="4.7" width="3.2" height="1.9" fill="#fff"/>
</g>
</g>
<g transform="translate(3,272)">
<circle cx="37.2" cy="16.8" r="1.75"/>
<circle cx="37.2" cy="27.5" r="1.75"/>
<circle cx="37.2" cy="43" r="1.75"/>
<circle cx="37.2" cy="58.2" r="1.75"/>
<circle cx="97.3" cy="16.8" r="1.75"/>
<circle cx="97.3" cy="27.5" r="1.75"/>
<circle cx="97.3" cy="43" r="1.75"/>
<circle cx="97.3" cy="58.2" r="1.75"/>
<circle cx="158.2" cy="16.8" r="1.75"/>
<circle cx="158.2" cy="27.5" r="1.75"/>
<circle cx="158.2" cy="43" r="1.75"/>
<circle cx="158.2" cy="58.2" r="1.75"/>
<circle cx="158.2" cy="88" r="1.75"/>
<circle cx="203.8" cy="16.8" r="1.75"/>
<circle cx="203.8" cy="27.5" r="1.75"/>
<circle cx="203.8" cy="43" r="1.75"/>
<circle cx="203.8" cy="58.2" r="1.75"/>
<rect x="202.8" y="87" width="2" height="2" fill="#fff" stroke="#222" stroke-width="0.8"/>
<circle cx="248.5" cy="16.8" r="1.75"/>
<circle cx="248.5" cy="27.5" r="1.75"/>
<circle cx="248.5" cy="43" r="1.75"/>
<circle cx="248.5" cy="58.2" r="1.75"/>
<circle cx="248.5" cy="88" r="1.75"/>
<rect x="247.5" y="124.5" width="2" height="2" fill="#fff" stroke="#222" stroke-width="0.8"/>
<circle cx="294.2" cy="16.8" r="1.75"/>
<circle cx="294.2" cy="27.5" r="1.75"/>
<circle cx="294.2" cy="43" r="1.75"/>
<circle cx="294.2" cy="58.2" r="1.75"/>
<circle cx="294.2" cy="88" r="1.75"/>
<circle cx="294.2" cy="125.5" r="1.75"/>
<circle cx="339.6" cy="16.8" r="1.75"/>
<circle cx="339.6" cy="27.5" r="1.75"/>
<circle cx="339.6" cy="43" r="1.75"/>
<circle cx="339.6" cy="58.2" r="1.75"/>
<circle cx="339.6" cy="88" r="1.75"/>
<circle cx="339.6" cy="125.5" r="1.75"/>
<circle cx="384.6" cy="16.8" r="1.75"/>
<circle cx="384.6" cy="27.5" r="1.75"/>
<circle cx="384.6" cy="43" r="1.75"/>
<circle cx="384.6" cy="58.2" r="1.75"/>
<circle cx="384.6" cy="88" r="1.75"/>
<rect x="383.6" y="124.5" width="2" height="2" fill="#fff" stroke="#222" stroke-width="0.8"/>
<circle cx="384.6" cy="162.7" r="1.75"/>
<circle cx="429.5" cy="16.8" r="1.75"/>
<circle cx="429.5" cy="27.5" r="1.75"/>
<circle cx="429.5" cy="43" r="1.75"/>
<circle cx="429.5" cy="58.2" r="1.75"/>
<rect x="428.5" y="87" width="2" height="2" fill="#fff" stroke="#222" stroke-width="0.8"/>
<circle cx="429.5" cy="125.5" r="1.75"/>
<circle cx="429.5" cy="162.7" r="1.75"/>
<circle cx="475" cy="16.8" r="1.75"/>
<rect x="474" y="26.5" width="2" height="2" fill="#fff" stroke="#222" stroke-width="0.8"/>
<rect x="474" y="42" width="2" height="2" fill="#fff" stroke="#222" stroke-width="0.8"/>
<rect x="474" y="57.2" width="2" height="2" fill="#fff" stroke="#222" stroke-width="0.8"/>
<circle cx="475" cy="88" r="1.75"/>
<circle cx="475" cy="125.5" r="1.75"/>
<circle cx="475" cy="162.7" r="1.75"/>
<circle cx="520.5" cy="16.8" r="1.75"/>
<circle cx="520.5" cy="27.5" r="1.75"/>
<circle cx="520.5" cy="43" r="1.75"/>
<circle cx="520.5" cy="58.2" r="1.75"/>
<circle cx="520.5" cy="88" r="1.75"/>
<circle cx="520.5" cy="125.5" r="1.75"/>
<circle cx="520.5" cy="162.7" r="1.75"/>
</g>
</svg>
</body></html>
